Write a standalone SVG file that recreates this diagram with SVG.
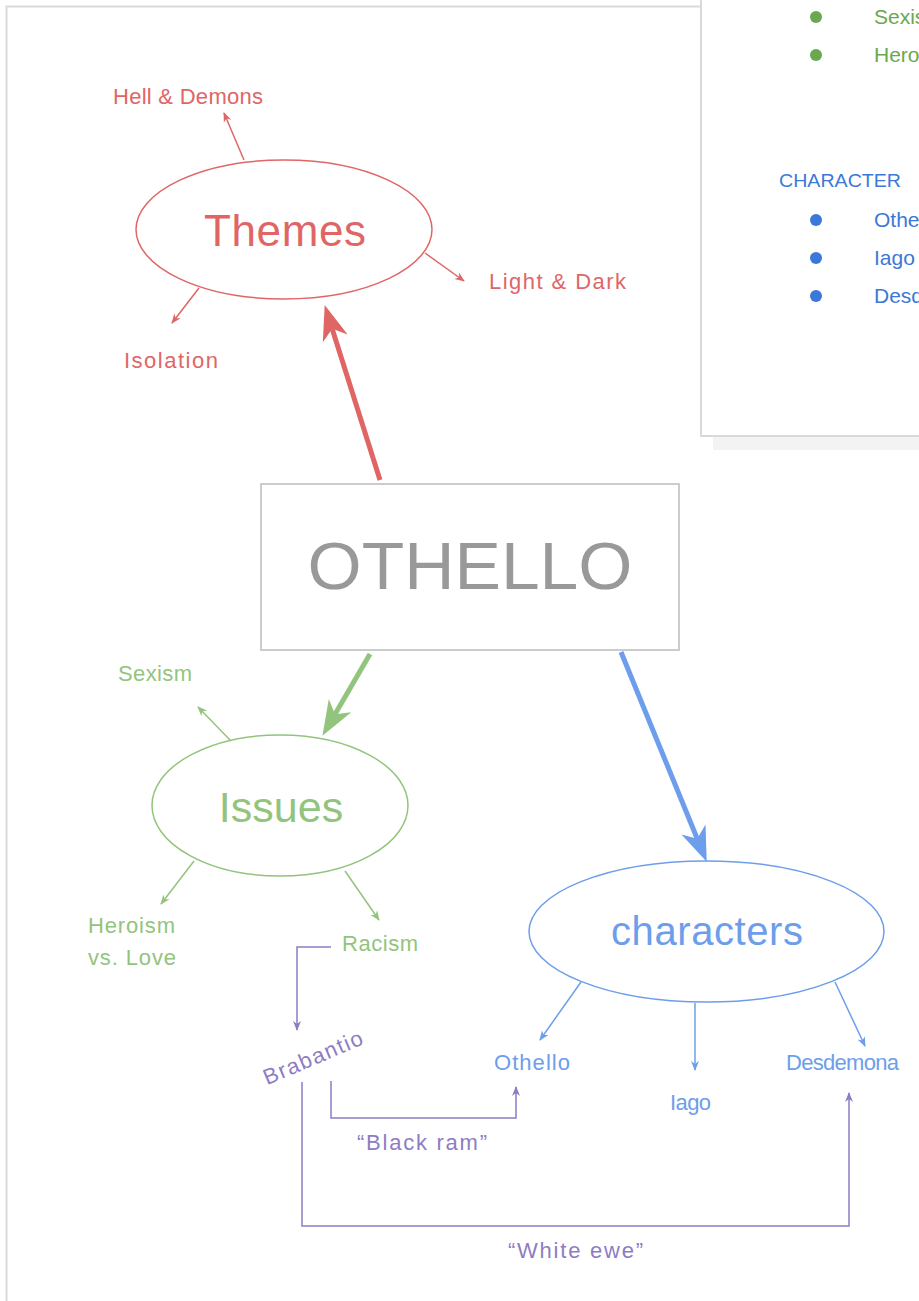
<svg xmlns="http://www.w3.org/2000/svg" width="919" height="1301" viewBox="0 0 919 1301">
<defs>
<style>
text{font-family:"Liberation Sans","Noto Sans",sans-serif}
.red{fill:#e06666}.green{fill:#93c47d}.blue{fill:#6d9eeb}.purple{fill:#8e7cc3}
.lbl{font-size:22px}
.thin{fill:none;stroke-width:1.5}
.pl{font-size:21px}
</style>
<marker id="ar-r" viewBox="0 0 10 10" refX="9" refY="5" markerWidth="10" markerHeight="10" markerUnits="userSpaceOnUse" orient="auto"><path d="M0,1 L10,5 L0,9 L3,5 z" fill="#e06666"/></marker>
<marker id="ar-g" viewBox="0 0 10 10" refX="9" refY="5" markerWidth="10" markerHeight="10" markerUnits="userSpaceOnUse" orient="auto"><path d="M0,1 L10,5 L0,9 L3,5 z" fill="#93c47d"/></marker>
<marker id="ar-b" viewBox="0 0 10 10" refX="9" refY="5" markerWidth="10" markerHeight="10" markerUnits="userSpaceOnUse" orient="auto"><path d="M0,1 L10,5 L0,9 L3,5 z" fill="#6d9eeb"/></marker>
<marker id="ar-p" viewBox="0 0 10 10" refX="9" refY="5" markerWidth="10" markerHeight="10" markerUnits="userSpaceOnUse" orient="auto"><path d="M0,1 L10,5 L0,9 L3,5 z" fill="#8e7cc3"/></marker>
<marker id="big-r" viewBox="0 0 36 30" refX="17" refY="15" markerWidth="36" markerHeight="30" markerUnits="userSpaceOnUse" orient="auto"><path d="M0,2 L35,15 L0,28 L10,15 z" fill="#e06666"/></marker>
<marker id="big-g" viewBox="0 0 36 30" refX="17" refY="15" markerWidth="36" markerHeight="30" markerUnits="userSpaceOnUse" orient="auto"><path d="M0,2 L35,15 L0,28 L10,15 z" fill="#93c47d"/></marker>
<marker id="big-b" viewBox="0 0 36 30" refX="17" refY="15" markerWidth="36" markerHeight="30" markerUnits="userSpaceOnUse" orient="auto"><path d="M0,2 L35,15 L0,28 L10,15 z" fill="#6d9eeb"/></marker>
</defs>
<rect x="0" y="0" width="919" height="1301" fill="#ffffff"/>
<g id="page">
<path d="M6.5,1301 V6.5 H720" fill="none" stroke="#dadada" stroke-width="2"/>
</g>
<g id="panel">
<rect x="713" y="0" width="220" height="450" fill="#f3f3f3"/>
<rect x="701" y="-10" width="240" height="446" fill="#ffffff" stroke="#d9d9d9" stroke-width="2"/>
<circle cx="816" cy="17" r="6" fill="#6aa84f"/>
<circle cx="816" cy="55" r="6" fill="#6aa84f"/>
<text x="874" y="24" class="pl" fill="#6aa84f">Sexism</text>
<text x="874" y="62" class="pl" fill="#6aa84f">Heroism vs. Love</text>
<text x="779" y="187" font-size="18" fill="#3c78d8" textLength="122" lengthAdjust="spacingAndGlyphs">CHARACTER</text>
<circle cx="816" cy="220" r="6" fill="#3c78d8"/>
<circle cx="816" cy="258" r="6" fill="#3c78d8"/>
<circle cx="816" cy="296" r="6" fill="#3c78d8"/>
<text x="874" y="227" class="pl" fill="#3c78d8">Othello</text>
<text x="874" y="265" class="pl" fill="#3c78d8">Iago</text>
<text x="874" y="303" class="pl" fill="#3c78d8">Desdemona</text>
</g>
<g id="connectors">
<line x1="380" y1="480" x2="330.1" y2="322.2" stroke="#e06666" stroke-width="5" marker-end="url(#big-r)"/>
<line x1="370" y1="654" x2="331.5" y2="720.3" stroke="#93c47d" stroke-width="5" marker-end="url(#big-g)"/>
<line x1="621" y1="652" x2="699.9" y2="845.2" stroke="#6d9eeb" stroke-width="5" marker-end="url(#big-b)"/>
<g class="thin" stroke="#e06666">
<line x1="244" y1="160" x2="224" y2="113" marker-end="url(#ar-r)"/>
<line x1="425" y1="253" x2="464" y2="281" marker-end="url(#ar-r)"/>
<line x1="199" y1="288" x2="172" y2="323" marker-end="url(#ar-r)"/>
</g>
<g class="thin" stroke="#93c47d">
<line x1="231" y1="741" x2="198" y2="707" marker-end="url(#ar-g)"/>
<line x1="194" y1="861" x2="161" y2="904" marker-end="url(#ar-g)"/>
<line x1="345" y1="871" x2="379" y2="920" marker-end="url(#ar-g)"/>
</g>
<g class="thin" stroke="#6d9eeb">
<line x1="581" y1="982" x2="540" y2="1040" marker-end="url(#ar-b)"/>
<line x1="695" y1="1003" x2="695" y2="1070" marker-end="url(#ar-b)"/>
<line x1="835" y1="982" x2="865" y2="1046" marker-end="url(#ar-b)"/>
</g>
<g class="thin" stroke="#8e7cc3">
<path d="M331,947 H297 V1030" marker-end="url(#ar-p)"/>
<path d="M331,1081 V1118 H516 V1087" marker-end="url(#ar-p)"/>
<path d="M302,1082 V1226 H849 V1093" marker-end="url(#ar-p)"/>
</g>
</g>
<g id="themes">
<ellipse cx="284" cy="229.5" rx="148" ry="69.5" fill="none" stroke="#e06666" stroke-width="1.5"/>
<text x="285" y="246" font-size="44" class="red" text-anchor="middle" textLength="162">Themes</text>
</g>
<g id="hell"><text x="113" y="104" class="lbl red" textLength="150">Hell &amp; Demons</text></g>
<g id="light"><text x="489" y="289" class="lbl red" textLength="137">Light &amp; Dark</text></g>
<g id="isolation"><text x="124" y="368" class="lbl red" textLength="94">Isolation</text></g>
<g id="othello-main">
<rect x="261" y="484" width="418" height="166" fill="#ffffff" stroke="#cccccc" stroke-width="2"/>
<text x="470" y="589" font-size="66" fill="#999999" text-anchor="middle" textLength="325" lengthAdjust="spacingAndGlyphs">OTHELLO</text>
</g>
<g id="issues">
<ellipse cx="280" cy="805.5" rx="128" ry="70.5" fill="none" stroke="#93c47d" stroke-width="1.5"/>
<text x="281" y="822" font-size="43" class="green" text-anchor="middle">Issues</text>
</g>
<g id="sexism"><text x="118" y="681" class="lbl green" textLength="74">Sexism</text></g>
<g id="heroism">
<text x="88" y="933" class="lbl green" textLength="87">Heroism</text>
<text x="88" y="965" class="lbl green" textLength="88">vs. Love</text>
</g>
<g id="racism"><text x="342" y="951" class="lbl green" textLength="76">Racism</text></g>
<g id="characters">
<ellipse cx="706.5" cy="931.5" rx="177.5" ry="70.5" fill="none" stroke="#6d9eeb" stroke-width="1.5"/>
<text x="707" y="945" font-size="40" class="blue" text-anchor="middle" textLength="192">characters</text>
</g>
<g id="othello"><text x="494" y="1070" class="lbl blue" textLength="76">Othello</text></g>
<g id="iago"><text x="670" y="1110" class="lbl blue" textLength="41">Iago</text></g>
<g id="desdemona"><text x="786" y="1070" class="lbl blue" textLength="113">Desdemona</text></g>
<g id="brabantio"><text x="313" y="1065" class="lbl purple" text-anchor="middle" textLength="106" transform="rotate(-23 313 1058)">Brabantio</text></g>
<g id="black-ram"><text x="357" y="1150" class="lbl purple" textLength="130">“Black ram”</text></g>
<g id="white-ewe"><text x="508" y="1258" class="lbl purple" textLength="135">“White ewe”</text></g>
</svg>
